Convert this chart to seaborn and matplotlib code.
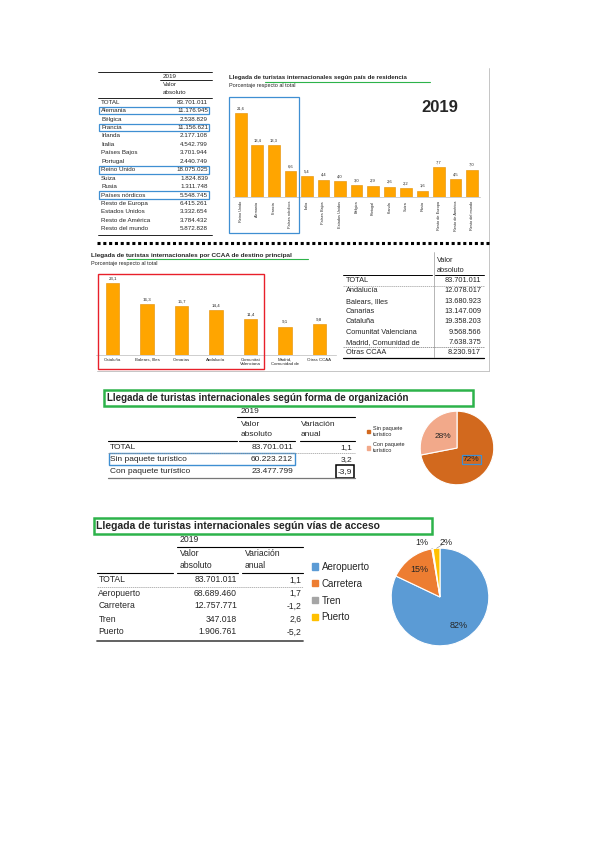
import matplotlib
matplotlib.use('Agg')
import matplotlib.pyplot as plt
import matplotlib.patches as mpatches
from matplotlib.lines import Line2D
import numpy as np
import pandas as pd
import seaborn as sns

# ---- datos ----
# tabla por pais de residencia (valor absoluto 2019)
tabla_paises = ['TOTAL', 'Alemania', 'Bélgica', 'Francia', 'Irlanda', 'Italia', 'Países Bajos',
                'Portugal', 'Reino Unido', 'Suiza', 'Rusia', 'Países nórdicos', 'Resto de Europa',
                'Estados Unidos', 'Resto de América', 'Resto del mundo']
tabla_paises_abs = [83701011, 11176945, 2538829, 11156621, 2177108, 4542799, 3701944,
                    2440749, 18075025, 1824839, 1311748, 5548745, 6415261,
                    3332654, 3784432, 5872828]
paises_marcados = ['Alemania', 'Francia', 'Reino Unido', 'Países nórdicos']

# barras: porcentaje respecto al total
bar_paises = ['Reino Unido', 'Alemania', 'Francia', 'Países nórdicos', 'Italia', 'Países Bajos',
              'Estados Unidos', 'Bélgica', 'Portugal', 'Irlanda', 'Suiza', 'Rusia',
              'Resto de Europa', 'Resto de América', 'Resto del mundo']
bar_paises_pct = [21.6, 13.4, 13.3, 6.6, 5.4, 4.4, 4.0, 3.0, 2.9, 2.6, 2.2, 1.6, 7.7, 4.5, 7.0]

# CCAA de destino principal
bar_ccaa = ['Cataluña', 'Balears, Illes', 'Canarias', 'Andalucía', 'Comunitat\nValenciana',
            'Madrid,\nComunidad de', 'Otras CCAA']
bar_ccaa_pct = [23.1, 16.3, 15.7, 14.4, 11.4, 9.1, 9.8]
tabla_ccaa = ['TOTAL', 'Andalucía', 'Balears, Illes', 'Canarias', 'Cataluña',
              'Comunitat Valenciana', 'Madrid, Comunidad de', 'Otras CCAA']
tabla_ccaa_abs = [83701011, 12078017, 13680923, 13147009, 19358203, 9568566, 7638375, 8230917]

# forma de organizacion
org_cat = ['TOTAL', 'Sin paquete turístico', 'Con paquete turístico']
org_abs = [83701011, 60223212, 23477799]
org_var = [1.1, 3.2, -3.9]
org_pie_labels = ['Sin paquete\nturístico', 'Con paquete\nturístico']
org_pie_colors = ['#D2691E', '#F2A98A']

# vias de acceso
via_cat = ['TOTAL', 'Aeropuerto', 'Carretera', 'Tren', 'Puerto']
via_abs = [83701011, 68689460, 12757771, 347018, 1906761]
via_var = [1.1, 1.7, -1.2, 2.6, -5.2]
via_pct_txt = ['82%', '15%', '1%', '2%']
via_colors = ['#5B9BD5', '#ED7D31', '#A5A5A5', '#FFC000']

sns.set_theme(style='white')
plt.rcParams['font.family'] = ['Liberation Sans', 'DejaVu Sans']

W, H = 600, 848
fig = plt.figure(figsize=(6, 8.48), dpi=100)
fig.patch.set_facecolor('white')

NARANJA = '#FFA500'
AZUL = '#3F8FD2'
VERDE = '#2DB34A'


def txt(x, y, s, **kw):
    kw.setdefault('va', 'center')
    fig.text(x / W, 1 - y / H, s, **kw)


def hline(x0, x1, y, **kw):
    kw.setdefault('color', 'black')
    kw.setdefault('lw', 0.6)
    fig.add_artist(Line2D([x0 / W, x1 / W], [1 - y / H, 1 - y / H], transform=fig.transFigure, **kw))


def vline(x, y0, y1, **kw):
    kw.setdefault('color', 'black')
    kw.setdefault('lw', 0.6)
    fig.add_artist(Line2D([x / W, x / W], [1 - y0 / H, 1 - y1 / H], transform=fig.transFigure, **kw))


def caja(x0, y0, x1, y1, **kw):
    fig.add_artist(mpatches.Rectangle((x0 / W, 1 - y1 / H), (x1 - x0) / W, (y1 - y0) / H,
                                      transform=fig.transFigure, fill=False, **kw))


def axes_px(x0, y0, x1, y1):
    return fig.add_axes([x0 / W, 1 - y1 / H, (x1 - x0) / W, (y1 - y0) / H])


def miles(n):
    return f"{n:,}".replace(',', '.')


def dec(v):
    return f"{v:.1f}".replace('.', ',')


# ================= bloque superior =================
# marco
vline(489, 68, 371, color='#BBBBBB', lw=0.6)
hline(97, 489, 371, color='#BBBBBB', lw=0.6)

# tabla paises
hline(98, 212, 72)
txt(170, 76, '2019', fontsize=4.5, ha='center')
hline(160, 212, 80)
txt(163, 85, 'Valor', fontsize=4.5)
txt(163, 93, 'absoluto', fontsize=4.5)
hline(98, 212, 97.5)
y = 102.2
for nom, val in zip(tabla_paises, tabla_paises_abs):
    txt(101, y, nom, fontsize=4.5)
    txt(208, y, miles(val), fontsize=4.5, ha='right')
    if nom in paises_marcados:
        caja(99, y - 3.8, 209, y + 3.8, edgecolor=AZUL, lw=0.9)
    y += 8.44
hline(98, 212, 234.5)

# barras paises
txt(229, 77, 'Llegada de turistas internacionales según país de residencia', fontsize=4.4,
    fontweight='bold')
hline(265, 430, 81.5, color=VERDE, lw=0.8)
txt(229, 86, 'Porcentaje respecto al total', fontsize=4)
txt(440, 108, '2019', fontsize=12, fontweight='bold', ha='center')

df_p = pd.DataFrame({'pais': bar_paises, 'pct': bar_paises_pct})
ax1 = axes_px(232.5, 96.3, 480.3, 196.7)
sns.barplot(data=df_p, x='pais', y='pct', color=NARANJA, saturation=1, width=0.7,
            edgecolor='#E38E00', linewidth=0.4, ax=ax1)
ax1.set_ylim(0, 26)
ax1.set_xlim(-0.5, len(bar_paises) - 0.5)
ax1.set(xlabel='', ylabel='', yticks=[])
for s in ['top', 'right', 'left']:
    ax1.spines[s].set_visible(False)
ax1.spines['bottom'].set_color('#BBBBBB')
ax1.spines['bottom'].set_linewidth(0.5)
ax1.set_facecolor('none')
ax1.tick_params(axis='x', labelsize=2.8, rotation=90, length=0, pad=3)
ax1.bar_label(ax1.containers[0], labels=[dec(v) for v in bar_paises_pct], fontsize=3, padding=2)
caja(228.5, 96.7, 299.3, 233.3, edgecolor=AZUL, lw=0.9)

# separador punteado
hline(97, 490, 243.3, lw=2.2, linestyle=(0, (1, 0.9)))

# barras CCAA
txt(91, 255, 'Llegada de turistas internacionales por CCAA de destino principal', fontsize=4.6,
    fontweight='bold')
hline(126.7, 308, 258.8, color=VERDE, lw=0.8)
txt(91, 263, 'Porcentaje respecto al total', fontsize=4)

df_c = pd.DataFrame({'ccaa': bar_ccaa, 'pct': bar_ccaa_pct})
ax2 = axes_px(95.5, 274, 336.5, 355)
sns.barplot(data=df_c, x='ccaa', y='pct', color=NARANJA, saturation=1, width=0.39,
            edgecolor='#E38E00', linewidth=0.4, ax=ax2)
ax2.set_ylim(0, 26)
ax2.set_xlim(-0.5, len(bar_ccaa) - 0.5)
ax2.set(xlabel='', ylabel='', yticks=[])
for s in ['top', 'right', 'left']:
    ax2.spines[s].set_visible(False)
ax2.spines['bottom'].set_color('#BBBBBB')
ax2.spines['bottom'].set_linewidth(0.5)
ax2.set_facecolor('none')
ax2.tick_params(axis='x', labelsize=3.2, length=0, pad=2)
ax2.bar_label(ax2.containers[0], labels=[dec(v) for v in bar_ccaa_pct], fontsize=3.2, padding=2)
caja(98.3, 274.3, 263.5, 369, edgecolor='#E8202A', lw=1.0)

# tabla CCAA
txt(437, 260, 'Valor', fontsize=5.3)
txt(437, 270.5, 'absoluto', fontsize=5.3)
vline(433.5, 252, 357, color='#999999', lw=0.5)
hline(343, 432, 274.5, lw=0.7)
hline(435, 484, 274.5, lw=0.7)
y = 280.5
for i, (nom, val) in enumerate(zip(tabla_ccaa, tabla_ccaa_abs)):
    txt(346, y, nom, fontsize=5.3)
    txt(481, y, miles(val), fontsize=5.3, ha='right')
    if i == 0:
        hline(343, 484, y + 5, color='#999999', lw=0.5, linestyle=(0, (2, 1)))
    if nom == 'Madrid, Comunidad de':
        hline(343, 484, y + 5, color='#777777', lw=0.5, linestyle=(0, (2, 1)))
    y += 10.3
hline(343, 484, 357.5, lw=0.9)

# ================= forma de organizacion =================
caja(104, 390, 472.7, 406, edgecolor=VERDE, lw=1.8)
txt(107, 398, 'Llegada de turistas internacionales según forma de organización', fontsize=7,
    fontweight='bold')

txt(241, 411.7, '2019', fontsize=6)
hline(237, 355, 417.3, lw=0.8)
txt(241, 424, 'Valor', fontsize=6)
txt(241, 435, 'absoluto', fontsize=6)
txt(301, 424, 'Variación', fontsize=6)
txt(301, 435, 'anual', fontsize=6)
hline(108, 236.5, 441, lw=0.8)
hline(238.5, 295, 441, lw=0.8)
hline(300, 355, 441, lw=0.8)
y = 447.5
for i, (nom, val, var) in enumerate(zip(org_cat, org_abs, org_var)):
    txt(110, y, nom, fontsize=6)
    txt(293, y, miles(val), fontsize=6, ha='right')
    txt(352, y, dec(var), fontsize=6, ha='right')
    if i == 0:
        hline(108, 355, y + 5.5, color='#999999', lw=0.5, linestyle=(0, (2, 1)))
    if nom == 'Sin paquete turístico':
        caja(108.5, y - 6, 295, y + 6, edgecolor=AZUL, lw=1.0)
    if var == min(org_var):
        caja(336, y - 6, 353.5, y + 6.5, edgecolor='black', lw=1.1)
    y += 11.8
hline(108, 355, 478, color='#777777', lw=0.9)

# tarta organizacion
ax3 = axes_px(411, 402, 503, 494)
w3, _, at3 = ax3.pie(org_abs[1:], colors=org_pie_colors, startangle=90, counterclock=False,
                     autopct='%1.0f%%', pctdistance=0.5,
                     wedgeprops=dict(edgecolor='white', linewidth=0.8),
                     textprops=dict(fontsize=6))
at3[0].set_bbox(dict(facecolor='none', edgecolor=AZUL, linewidth=0.9, pad=0.8))
fig.legend(handles=[mpatches.Patch(color=c, label=l) for c, l in zip(org_pie_colors, org_pie_labels)],
           loc='upper left', bbox_to_anchor=(367 / W, 1 - 426 / H), frameon=False, fontsize=4,
           handlelength=0.6, handleheight=0.6, handletextpad=0.5, labelspacing=1.0,
           borderaxespad=0, borderpad=0)

# ================= vias de acceso =================
caja(94.3, 518.3, 432.3, 534.3, edgecolor=VERDE, lw=1.8)
txt(96, 526.3, 'Llegada de turistas internacionales según vías de acceso', fontsize=7.5,
    fontweight='bold')

txt(180, 539.5, '2019', fontsize=6.2)
hline(176.7, 303, 546.5, lw=0.8)
txt(180, 553, 'Valor', fontsize=6.2)
txt(180, 566, 'absoluto', fontsize=6.2)
txt(245, 553, 'Variación', fontsize=6.2)
txt(245, 566, 'anual', fontsize=6.2)
hline(96.7, 173, 573, lw=0.8)
hline(176.7, 238, 573, lw=0.8)
hline(241.7, 303, 573, lw=0.8)
y = 580
for i, (nom, val, var) in enumerate(zip(via_cat, via_abs, via_var)):
    txt(98.3, y, nom, fontsize=6.2)
    txt(237, y, miles(val), fontsize=6.2, ha='right')
    txt(301.5, y, dec(var), fontsize=6.2, ha='right')
    if i == 0:
        hline(96.7, 303, y + 6.5, color='#999999', lw=0.5, linestyle=(0, (2, 1)))
    y += 13
hline(96.7, 303, 640.5, color='#555555', lw=1.3)

# tarta vias
ax4 = axes_px(379, 536, 501, 658)
w4, _ = ax4.pie(via_abs[1:], colors=via_colors, startangle=90, counterclock=False,
                wedgeprops=dict(edgecolor='white', linewidth=0.8))
for i, w in enumerate(w4):
    ang = np.deg2rad((w.theta1 + w.theta2) / 2)
    if i < 2:
        ax4.text(0.7 * np.cos(ang), 0.7 * np.sin(ang), via_pct_txt[i], fontsize=6.5,
                 ha='center', va='center')
    else:
        dx = -0.37 if i == 2 else 0.12
        ax4.annotate(via_pct_txt[i], xy=(np.cos(ang), np.sin(ang)), xytext=(dx, 1.12),
                     fontsize=6.5, ha='center', va='center',
                     arrowprops=dict(arrowstyle='-', color='#888888', lw=0.4,
                                     shrinkA=3, shrinkB=0))
fig.legend(handles=[mpatches.Patch(color=c, label=l) for c, l in zip(via_colors, via_cat[1:])],
           loc='upper left', bbox_to_anchor=(312 / W, 1 - 562 / H), frameon=False, fontsize=7,
           handlelength=0.6, handleheight=0.6, handletextpad=0.4, labelspacing=0.7,
           borderaxespad=0, borderpad=0)

fig.savefig('out.png', dpi=100, facecolor='white')
